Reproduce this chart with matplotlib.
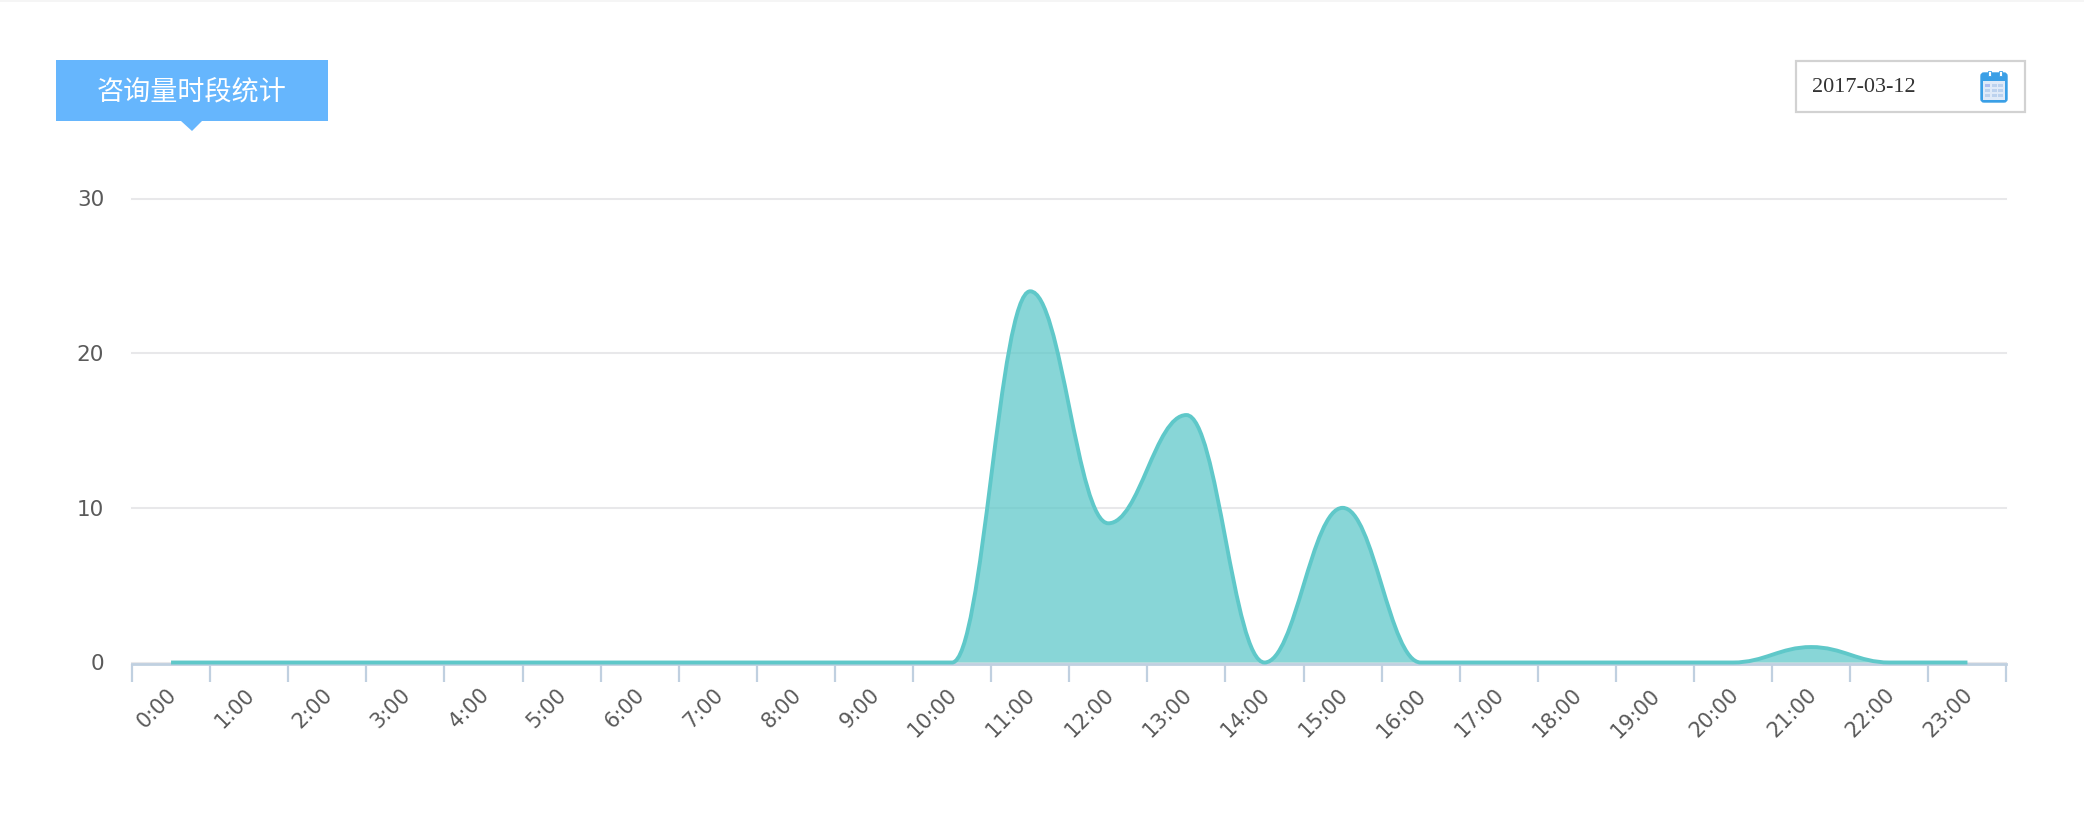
import matplotlib
matplotlib.use('Agg')
import matplotlib.pyplot as plt
import matplotlib.transforms as mtrans
import numpy as np
from matplotlib.patches import FancyBboxPatch, PathPatch, Polygon, Rectangle
from matplotlib.path import Path

hours = ['%d:00' % h for h in range(24)]
counts = [0, 0, 0, 0, 0, 0, 0, 0, 0, 0, 0, 24, 9, 16, 0, 10, 0, 0, 0, 0, 0, 1, 0, 0]
y_ticks = [0, 10, 20, 30]
title = '咨询量时段统计'
date_text = '2017-03-12'

W, H = 2084, 826
LEFT, RIGHT, BASE, TOP = 132, 2006.5, 662.5, 198.5
LINE = '#5fc8c9'
AXIS = '#c0d0e0'
TEXT = '#5a5a5a'


def spline_path(xs, ys, smoothing=1.5):
    """Bezier through the points. Control points sit on one line through
    each point and may not overshoot its neighbours."""
    denom = smoothing + 1
    n = len(xs)
    verts = [(xs[0], ys[0])]
    codes = [Path.MOVETO]
    right_prev = (xs[0], ys[0])
    for i in range(1, n):
        x0, y0 = xs[i], ys[i]
        if i == n - 1:
            left = (x0, y0)
            right = (x0, y0)
        else:
            lx, ly = xs[i - 1], ys[i - 1]
            nx, ny = xs[i + 1], ys[i + 1]
            left_x = (smoothing * x0 + lx) / denom
            left_y = (smoothing * y0 + ly) / denom
            right_x = (smoothing * x0 + nx) / denom
            right_y = (smoothing * y0 + ny) / denom
            corr = (right_y - left_y) * (right_x - x0) / (right_x - left_x) + y0 - right_y
            left_y += corr
            right_y += corr
            if (left_y > ly and left_y > y0) or (left_y < ly and left_y < y0):
                left_y = max(ly, y0) if left_y > y0 else min(ly, y0)
                right_y = 2 * y0 - left_y
            if (right_y > ny and right_y > y0) or (right_y < ny and right_y < y0):
                right_y = max(ny, y0) if right_y > y0 else min(ny, y0)
                left_y = 2 * y0 - right_y
            left = (left_x, left_y)
            right = (right_x, right_y)
        verts += [right_prev, left, (x0, y0)]
        codes += [Path.CURVE4] * 3
        right_prev = right
    return verts, codes


fig = plt.figure(figsize=(W / 100, H / 100), dpi=100, facecolor='white')
ax = fig.add_axes([LEFT / W, 1 - BASE / H, (RIGHT - LEFT) / W, (BASE - TOP) / H])
ax.set_xlim(0, len(hours))
ax.set_ylim(0, 30)

x = np.arange(len(hours)) + 0.5
verts, codes = spline_path(list(x), counts)

# Area under the curve
area_verts = verts + [(x[-1], 0), (x[0], 0), (x[0], 0)]
area_codes = codes + [Path.LINETO, Path.LINETO, Path.CLOSEPOLY]
ax.add_patch(PathPatch(Path(area_verts, area_codes), facecolor=LINE, edgecolor='none',
                       alpha=0.74, zorder=3))
line = PathPatch(Path(verts, codes), facecolor='none', edgecolor=LINE, linewidth=2.8, zorder=4)
line.set_clip_on(False)
ax.add_patch(line)

ax.set_yticks(y_ticks)
ax.grid(True, axis='y', color='#e8e8ea', linewidth=1.5, zorder=1)
for gl in ax.get_ygridlines():
    gl.set_clip_on(False)
ax.set_axisbelow(True)
for side in ['top', 'right', 'left']:
    ax.spines[side].set_visible(False)
ax.spines['bottom'].set_color(AXIS)
ax.spines['bottom'].set_linewidth(2)
ax.spines['bottom'].set_position(('outward', 1))
ax.spines['bottom'].set_zorder(2)

ax.set_xticks(np.arange(len(hours) + 1))
ax.set_xticklabels([])
ax.set_xticks(x, minor=True)
ax.set_xticklabels(hours, minor=True, rotation=45, ha='right', va='top',
                   rotation_mode='anchor', color=TEXT, fontsize=15)
ax.tick_params(axis='x', which='major', length=13, width=1.6, color=AXIS)
ax.tick_params(axis='x', which='minor', length=0, pad=15)
ax.tick_params(axis='y', length=0, pad=20, labelsize=15.5, labelcolor=TEXT)

# Rotated labels sit a bit left of the band centre
shift = mtrans.ScaledTranslation(-5 / 100, 0, fig.dpi_scale_trans)
for lab in ax.get_xticklabels(minor=True):
    lab.set_transform(lab.get_transform() + shift)

# ---------------------------------------------------------
# Page furniture, drawn in pixel coordinates
# ---------------------------------------------------------
page = fig.add_axes([0, 0, 1, 1], zorder=5)
page.set_xlim(0, W)
page.set_ylim(H, 0)
page.axis('off')

page.add_patch(Rectangle((0, 0), W, 2, facecolor='#f5f5f5', edgecolor='none'))

page.add_patch(Rectangle((56, 60), 272, 61, facecolor='#66b6fd', edgecolor='none'))
page.add_patch(Polygon([(181, 121), (202, 121), (192, 131)], facecolor='#66b6fd', edgecolor='none'))
page.text(192, 92, title, color='white', ha='center', va='center', fontsize=19.5,
          family=['Noto Sans CJK SC', 'DejaVu Sans'])

page.add_patch(Rectangle((1796, 61), 229, 51, facecolor='white', edgecolor='#d2d2d2', linewidth=1.6))
page.text(1812, 88, date_text, color='#333333', ha='left', va='center', fontsize=16,
          family='Liberation Serif')

# Calendar icon
page.add_patch(FancyBboxPatch((1981, 73), 26, 29, boxstyle='round,pad=0,rounding_size=3',
                              facecolor='#3a9fe6', edgecolor='#3a9fe6', linewidth=1))
page.add_patch(Rectangle((1983, 81), 22, 19, facecolor='#dfeaf8', edgecolor='none'))
for cx in [1989, 2000]:
    page.add_patch(Rectangle((cx - 1.5, 71), 3, 5, facecolor='white', edgecolor='#3a9fe6', linewidth=0.6))
for row in range(3):
    for col in range(3):
        page.add_patch(Rectangle((1985 + col * 6.5, 83.5 + row * 5), 5, 3.5,
                                 facecolor='#aebdf0' if row == 0 and col == 0 else '#bcd2ee',
                                 edgecolor='none'))

fig.savefig('out.png', dpi=100, facecolor='white')
